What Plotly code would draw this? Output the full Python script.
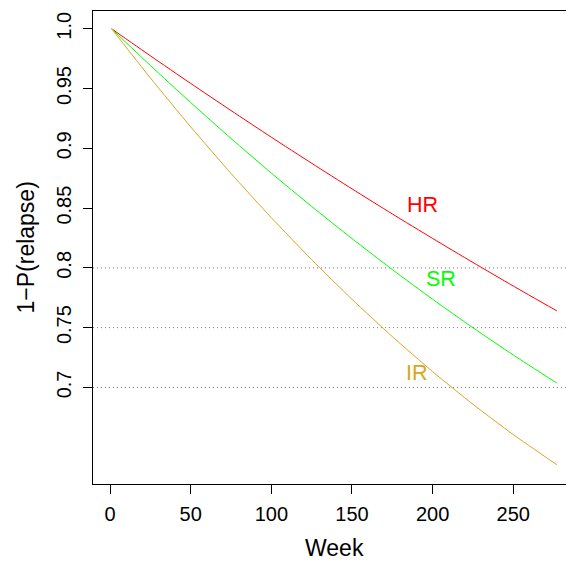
import plotly.graph_objects as go

# Survival (1 - P(relapse)) by week for the three relapse groups
weeks = [1, 25, 50, 75, 100, 125, 150, 175, 200, 225, 250, 277]
hr_surv = [1.0, 0.9774, 0.9543, 0.9316, 0.9093, 0.8875, 0.8661, 0.8451, 0.8246, 0.8045, 0.7848, 0.7640]
sr_surv = [1.0, 0.9693, 0.9383, 0.9083, 0.8793, 0.8514, 0.8245, 0.7986, 0.7737, 0.7499, 0.7271, 0.7036]
ir_surv = [1.0, 0.9589, 0.9180, 0.8790, 0.8420, 0.8069, 0.7737, 0.7425, 0.7132, 0.6859, 0.6605, 0.6353]

group_names = ["HR", "SR", "IR"]
group_colors = ["#FF0000", "#00FF00", "#DAA520"]
label_pos = [(193.8, 0.8523), (205.0, 0.7903), (190.1, 0.7122)]

ref_levels = [0.7, 0.75, 0.8]
y_ticks = [0.7, 0.75, 0.8, 0.85, 0.9, 0.95, 1.0]
y_tick_text = ["0.7", "0.75", "0.8", "0.85", "0.9", "0.95", "1.0"]
x_ticks = [0, 50, 100, 150, 200, 250]

FONT = "Liberation Sans, Arial, Helvetica, sans-serif"

fig = go.Figure()
for name, ys, col in zip(group_names, [hr_surv, sr_surv, ir_surv], group_colors):
    fig.add_trace(go.Scatter(
        x=weeks, y=ys, mode="lines", name=name,
        line=dict(color=col, width=1, shape="spline", smoothing=0.6),
        showlegend=False, hoverinfo="skip",
    ))

for lvl in ref_levels:
    fig.add_shape(type="line", xref="paper", x0=0, x1=1, yref="y", y0=lvl, y1=lvl,
                  line=dict(color="#777777", width=1, dash="1px,3px"), layer="below")

for name, (lx, ly), col in zip(group_names, label_pos, group_colors):
    fig.add_annotation(x=lx, y=ly, xref="x", yref="y", text=name, showarrow=False,
                       font=dict(family=FONT, size=21.5, color=col),
                       xanchor="center", yanchor="middle")

# axis titles
fig.add_annotation(x=139, xref="x", y=0, yref="paper", yshift=-63.7, text="Week",
                   showarrow=False, xanchor="center", yanchor="middle",
                   font=dict(family=FONT, size=23, color="black"))
fig.add_annotation(x=0, xref="paper", xshift=-68, y=0.5, yref="paper", text="1\u2212P(relapse)",
                   showarrow=False, textangle=-90, xanchor="center", yanchor="middle",
                   font=dict(family=FONT, size=23, color="black"))

fig.update_layout(
    width=566, height=562,
    margin=dict(l=93, r=0, t=11, b=78, pad=0),
    paper_bgcolor="white", plot_bgcolor="white",
    font=dict(family=FONT, size=20, color="black"),
    xaxis=dict(range=[-10.54, 282.67], tickvals=x_ticks, ticks="outside", ticklen=9,
               tickcolor="black", tickwidth=1, showline=True, linecolor="black", linewidth=1,
               mirror=True, showgrid=False, zeroline=False, ticklabelstandoff=3,
               tickfont=dict(family=FONT, size=20, color="black")),
    yaxis=dict(range=[0.6192, 1.01487], tickvals=y_ticks, ticktext=y_tick_text,
               ticks="outside", ticklen=9, tickcolor="black", tickwidth=1,
               showline=True, linecolor="black", linewidth=1, showgrid=False, zeroline=False,
               tickangle=-90, ticklabelstandoff=4,
               tickfont=dict(family=FONT, size=20, color="black")),
)

fig.write_html("out.html")
